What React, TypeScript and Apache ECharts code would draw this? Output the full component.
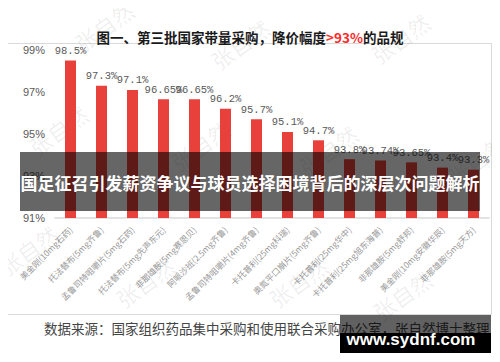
import React, { useEffect, useRef } from "react";
import * as echarts from "echarts";

const categories = [
  "美金刚(10mg石药)",
  "托法替布(5mg齐鲁)",
  "孟鲁司特咀嚼片(5mg石药)",
  "托法替布(5mg先声东元)",
  "非那雄胺(5mg赛恩贝)",
  "阿哌沙班(2.5mg齐鲁)",
  "孟鲁司特咀嚼片(4mg齐鲁)",
  "卡托普利(25mg科瑞)",
  "奥氮平口崩片(5mg齐鲁)",
  "卡托普利(25mg华中)",
  "卡托普利(25mg旭东海普)",
  "非那雄胺(5mg舒邦)",
  "美金刚(10mg安徽华辰)",
  "非那雄胺(5mg天方)",
];
const values = [98.5, 97.3, 97.1, 96.65, 96.65, 96.2, 95.7, 95.1, 94.7, 93.8, 93.74, 93.65, 93.4, 93.3];
const yMin = 91;
const yMax = 99;
const yInterval = 2;

const titleMain = "图一、第三批国家带量采购，降价幅度";
const titleRed = ">93%";
const titleEnd = "的品规";
const bannerText = "国足征召引发薪资争议与球员选择困境背后的深层次问题解析";
const sourceText = "数据来源：国家组织药品集中采购和使用联合采购办公室，张自然博士整理";
const siteText = "www.sydnf.com";
const watermark = "张自然";

const watermarkSpots = [
  [58, 130], [200, 145], [400, 38], [240, 44], [104, 26], [328, 150], [476, 160],
  [28, 250], [145, 282], [298, 282], [402, 295],
];

export default function App() {
  const ref = useRef<HTMLDivElement>(null);
  useEffect(() => {
    if (!ref.current) return;
    const chart = echarts.init(ref.current, undefined, { renderer: "svg" });
    const cjk = "'Noto Sans CJK SC', sans-serif";
    const graphic: any[] = [
      {
        type: "rect",
        z: 1,
        shape: { x: 4.5, y: 43.5, width: 487, height: 271 },
        style: { fill: "none", stroke: "#d9d9d9", lineWidth: 1 },
      },
      ...watermarkSpots.map(([x, y]) => ({
        type: "text",
        z: 1,
        x,
        y,
        rotation: 0.62,
        style: {
          text: watermark,
          font: `22px ${cjk}`,
          fill: "rgba(0,0,0,0.07)",
          textAlign: "center",
          textVerticalAlign: "middle",
          align: "center",
          verticalAlign: "middle",
        },
      })),
      {
        type: "text",
        z: 5,
        x: 44,
        y: 328,
        style: {
          text: sourceText,
          font: `13.5px ${cjk}`,
          fill: "#444",
          textVerticalAlign: "middle",
          verticalAlign: "middle",
        },
      },
      {
        type: "rect",
        z: 100,
        shape: { x: 20, y: 152, width: 460, height: 59 },
        style: { fill: "rgba(0,0,0,0.6)" },
      },
      {
        type: "text",
        z: 101,
        x: 250,
        y: 182,
        style: {
          text: bannerText,
          font: `bold 17px ${cjk}`,
          fill: "#fff",
          textAlign: "center",
          textVerticalAlign: "middle",
          align: "center",
          verticalAlign: "middle",
        },
      },
      {
        type: "rect",
        z: 100,
        shape: { x: 340, y: 315, width: 151, height: 18 },
        style: { fill: "rgba(0,0,0,0.62)" },
      },
      {
        type: "rect",
        z: 100,
        shape: { x: 340, y: 333, width: 151, height: 20 },
        style: { fill: "#000" },
      },
      {
        type: "text",
        z: 101,
        x: 411,
        y: 339,
        style: {
          text: siteText,
          font: "bold 17px 'Liberation Sans', Arial, sans-serif",
          fill: "#fff",
          textAlign: "center",
          textVerticalAlign: "middle",
          align: "center",
          verticalAlign: "middle",
        },
      },
    ];

    chart.setOption({
      animation: false,
      backgroundColor: "#fff",
      title: {
        left: "center",
        top: 25,
        text: `{a|${titleMain}}{r|${titleRed}}{a|${titleEnd}}`,
        textStyle: {
          rich: {
            a: { fontFamily: "Noto Sans CJK SC", fontWeight: "bold", fontSize: 13.5, color: "#1a1a1a" },
            r: { fontFamily: "Noto Sans CJK SC", fontWeight: "bold", fontSize: 13.5, color: "#ff2a2a" },
          },
        },
      },
      grid: { left: 55, right: 11, top: 50, bottom: 144, containLabel: false },
      xAxis: {
        type: "category",
        data: categories,
        axisTick: { show: false },
        axisLine: { lineStyle: { color: "#d9d9d9", width: 1.5 } },
        axisLabel: {
          interval: 0,
          rotate: 45,
          margin: 10,
          fontSize: 8.5,
          color: "#999",
          fontFamily: "Noto Sans CJK SC",
        },
      },
      yAxis: {
        type: "value",
        min: yMin,
        max: yMax,
        interval: yInterval,
        splitLine: { show: false },
        axisLine: { show: false },
        axisTick: { show: false },
        axisLabel: {
          formatter: (v: number) => `${v}%`,
          color: "#595959",
          fontSize: 11,
          margin: 10,
          fontFamily: "Liberation Sans",
        },
      },
      series: [
        {
          type: "bar",
          data: values,
          barWidth: 11,
          itemStyle: { color: "#E8413B" },
          label: {
            show: true,
            position: "top",
            distance: 4,
            formatter: (p: any) => `${p.value}%`,
            color: "#595959",
            fontSize: 10.5,
            fontFamily: "Liberation Mono",
          },
        },
      ],
      graphic,
    });
    return () => chart.dispose();
  }, []);
  return <div ref={ref} style={{ width: 500, height: 362, margin: -8 }} />;
}
